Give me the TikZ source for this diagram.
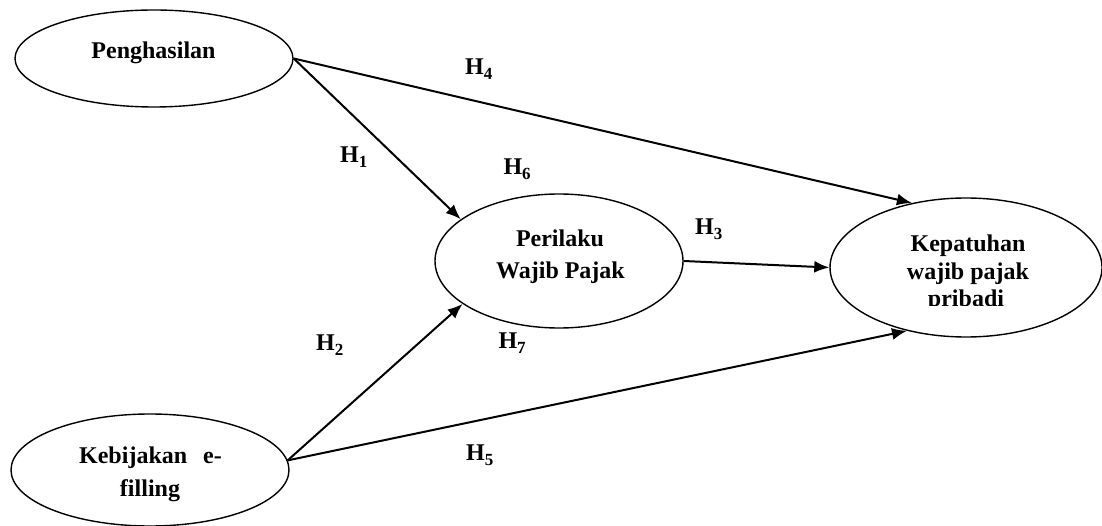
\documentclass[tikz,border=0pt]{standalone}
\usepackage{fontspec}
\setmainfont{Liberation Serif}
\usetikzlibrary{shapes.geometric,arrows.meta}
\tikzset{
  varbox/.style={ellipse, draw, line width=1.4pt, inner sep=0pt},
  txt/.style={anchor=base, inner sep=0pt, font=\bfseries\fontsize{24}{28}\selectfont},
  hlbl/.style={anchor=base west, inner sep=0pt, font=\bfseries\fontsize{24}{28}\selectfont},
  path/.style={line width=2pt, -{Latex[length=15pt,width=12pt]}}
}
\newcommand{\hyp}[1]{H\raisebox{-5pt}{\fontsize{17}{17}\selectfont #1}}
\begin{document}
\begin{tikzpicture}[x=1pt,y=-1pt]
\useasboundingbox (0,0) rectangle (1102,526);
% ellipses
\node[varbox, minimum width=278pt, minimum height=97pt] (peng) at (154,58.5) {};
\node[varbox, minimum width=278pt, minimum height=112pt] (kebi) at (150,470) {};
\node[varbox, minimum width=248pt, minimum height=134pt] (peri) at (559,261) {};
\node[varbox, minimum width=272pt, minimum height=139pt] (kepa) at (966,267.5) {};
% texts
\node[txt] (tpeng) at (153.5,58.3) {Penghasilan};
\node[txt] (tkeb1) at (150.5,463.3) {Kebijakan\hspace{10pt} e-};
\node[txt] (tkeb2) at (150,496.7) {filling};
\node[txt] (tper1) at (560,246.7) {Perilaku};
\node[txt] (tper2) at (560.5,278.3) {Wajib Pajak};
\node[txt] (tkep1) at (968,251.7) {Kepatuhan};
\node[txt] (tkep2) at (968,280) {wajib pajak};
\begin{scope}
\clip (830,290) rectangle (1102,305.5);
\node[txt] (tkep3) at (966,307) {pribadi};
\end{scope}
% connectors
\draw[path] (peng.east) -- (peri.157);
\draw[path] (peng.east) -- (kepa.130);
\draw[path] (kebi.4) -- (peri.204);
\draw[path] (kebi.4) -- (kepa.227);
\draw[path] (peri.east) -- (kepa.west);
% hypothesis labels
\node[hlbl] (h1) at (340,162.7) {\hyp{1}};
\node[hlbl] (h2) at (316,350.7) {\hyp{2}};
\node[hlbl] (h3) at (695,235) {\hyp{3}};
\node[hlbl] (h4) at (465,75) {\hyp{4}};
\node[hlbl] (h5) at (466,460.7) {\hyp{5}};
\node[hlbl] (h6) at (503.3,175) {\hyp{6}};
\node[hlbl] (h7) at (498.3,348.3) {\hyp{7}};
\end{tikzpicture}
\end{document}
